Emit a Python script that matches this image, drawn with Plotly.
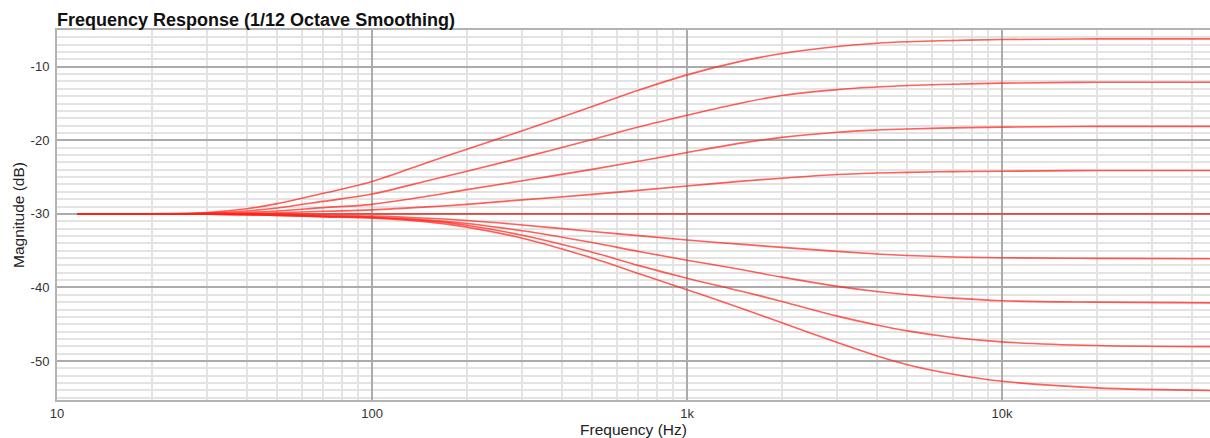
import plotly.graph_objects as go

# Frequency points (Hz) at which each response is sampled
freq = [11.6, 20, 30, 40, 50, 70, 100, 150, 200, 300, 500, 700, 1000,
        1500, 2000, 3000, 4000, 5000, 7000, 10000, 20000, 46000]

# Magnitude (dB) of each shelving response, +24 dB down to -24 dB
boost_24 = [-30.0, -29.97, -29.8, -29.3, -28.6, -27.2, -25.6, -23.0, -21.2, -18.7, -15.4, -13.2, -11.1,
            -9.2, -8.2, -7.25, -6.8, -6.6, -6.42, -6.3, -6.2, -6.2]
boost_18 = [-30.0, -30.0, -29.9, -29.6, -29.2, -28.3, -27.3, -25.5, -24.2, -22.35, -19.9, -18.2, -16.6,
            -14.9, -13.9, -13.1, -12.75, -12.55, -12.37, -12.22, -12.1, -12.1]
boost_12 = [-30.0, -30.0, -29.95, -29.8, -29.6, -29.15, -28.7, -27.6, -26.7, -25.5, -23.95, -22.85, -21.65,
            -20.35, -19.6, -18.9, -18.6, -18.45, -18.3, -18.2, -18.1, -18.1]
boost_6 = [-30.0, -30.0, -30.0, -29.95, -29.85, -29.65, -29.45, -29.05, -28.7, -28.1, -27.35, -26.8, -26.2,
           -25.55, -25.15, -24.65, -24.45, -24.35, -24.25, -24.2, -24.1, -24.1]
flat_0 = [-30.0] * len(freq)
cut_6 = [-30.0, -30.0, -30.0, -30.05, -30.1, -30.2, -30.3, -30.6, -30.9, -31.5, -32.4, -32.95, -33.55,
         -34.15, -34.55, -35.1, -35.45, -35.65, -35.85, -35.97, -36.05, -36.1]
cut_12 = [-30.0, -30.0, -30.05, -30.1, -30.15, -30.3, -30.45, -30.85, -31.3, -32.3, -33.9, -35.1, -36.3,
          -37.6, -38.6, -39.85, -40.55, -40.95, -41.45, -41.8, -42.0, -42.1]
cut_18 = [-30.0, -30.0, -30.05, -30.1, -30.2, -30.35, -30.5, -30.95, -31.55, -32.9, -35.2, -37.0, -38.75,
          -40.55, -41.9, -43.9, -45.1, -45.9, -46.8, -47.4, -47.9, -48.05]
cut_24 = [-30.0, -30.0, -30.05, -30.1, -30.2, -30.4, -30.6, -31.1, -31.8, -33.3, -36.0, -38.1, -40.3,
          -42.9, -44.8, -47.5, -49.3, -50.5, -51.8, -52.75, -53.65, -54.0]

series = [boost_24, boost_18, boost_12, boost_6, flat_0, cut_6, cut_12, cut_18, cut_24]

x_tickvals = [10, 100, 1000, 10000]
x_ticktext = ["10", "100", "1k", "10k"]
y_tickvals = [-50, -40, -30, -20, -10]
y_ticktext = ["-50", "-40", "-30", "-20", "-10"]

fig = go.Figure()
for values in series:
    fig.add_trace(go.Scatter(
        x=freq, y=values, mode="lines",
        line=dict(color="rgba(255,35,25,0.72)", width=1.6, shape="spline", smoothing=1.0),
        hoverinfo="skip", showlegend=False,
    ))

font_family = "Liberation Sans, Arial, Helvetica, sans-serif"

fig.update_layout(
    width=1210, height=438,
    margin=dict(l=57, r=0, t=30, b=38),
    paper_bgcolor="white", plot_bgcolor="white",
    font=dict(family=font_family, size=13, color="#333333"),
    title=dict(
        text="<b>Frequency Response (1/12 Octave Smoothing)</b>",
        font=dict(family=font_family, size=18, color="#111111"),
        xref="paper", x=0, xanchor="left",
        yref="container", y=1 - 20 / 438, yanchor="middle",
    ),
    xaxis=dict(
        type="log", range=[1, 4.66],
        tickvals=x_tickvals, ticktext=x_ticktext,
        showgrid=True, gridcolor="#ababab", gridwidth=1.5,
        minor=dict(dtick="D1", showgrid=True, gridcolor="#e3e3e3", gridwidth=1.5, ticklen=0),
        showline=True, linecolor="#b3b3b3", linewidth=2, mirror=True,
        ticks="", ticklabelstandoff=0,
        zeroline=False,
        title=dict(text="Frequency (Hz)", standoff=2, font=dict(size=15.5, color="#222222")),
    ),
    yaxis=dict(
        range=[-55.3, -5],
        tickvals=y_tickvals, ticktext=y_ticktext,
        showgrid=True, gridcolor="#ababab", gridwidth=1.5,
        minor=dict(dtick=1, tick0=0, showgrid=True, gridcolor="#e3e3e3", gridwidth=1.5, ticklen=0),
        showline=True, linecolor="#b3b3b3", linewidth=2,
        ticks="", ticklabelstandoff=3,
        zeroline=False,
        title=dict(text="Magnitude (dB)", standoff=2, font=dict(size=15.5, color="#222222")),
    ),
)

fig.write_html("out.html")
